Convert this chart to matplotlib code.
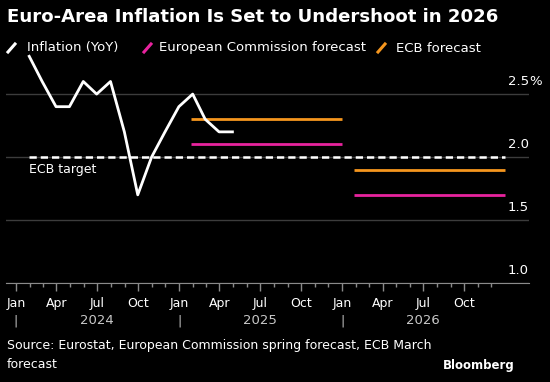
import matplotlib
matplotlib.use("Agg")
import matplotlib.pyplot as plt
import matplotlib.dates as mdates
import matplotlib.transforms as mtransforms
from matplotlib.lines import Line2D
import pandas as pd

# monthly euro-area inflation, YoY %, Jan 2024 - Apr 2025
inflation = [2.8, 2.6, 2.4, 2.4, 2.6, 2.5, 2.6, 2.2, 1.7, 2.0, 2.2, 2.4,
             2.5, 2.3, 2.2, 2.2]
forecast_years = [2025, 2026]
ec_forecast = [2.1, 1.7]
ecb_forecast = [2.3, 1.9]
ecb_target = 2.0
y_ticks = [1.0, 1.5, 2.0, 2.5]
y_tick_labels = ["1.0", "1.5", "2.0", "2.5"]
years = [2024, 2025, 2026]

BG = "black"
WHITE = "white"
ORANGE = "#f5961e"
PINK = "#e8239e"
GRID = "#3c3c3c"
AXIS = "#8a8a8a"

# data is plotted at month end
dates = pd.date_range("2024-01-31", periods=len(inflation), freq="ME")

fig = plt.figure(figsize=(5.5, 3.82), dpi=100, facecolor=BG)
ax = fig.add_axes([6 / 550, 99 / 382, 523 / 550, 233 / 382], facecolor=BG)

ax.set_xlim(pd.Timestamp("2023-12-10"), pd.Timestamp("2027-02-23"))
ax.set_ylim(1.0, 2.85)

# horizontal grid
for y in y_ticks:
    ax.axhline(y, color=GRID, lw=1, zorder=1)

# ECB target
ax.plot([pd.Timestamp("2024-01-31"), pd.Timestamp("2026-12-31")],
        [ecb_target, ecb_target], color=WHITE, lw=1.8,
        dashes=(2.9, 1.6), zorder=2)
ax.text(pd.Timestamp("2024-01-31"), 1.90, "ECB target", color=WHITE,
        fontsize=9, va="center", ha="left")

# forecasts, one flat segment per year
for yr, ec, ecb in zip(forecast_years, ec_forecast, ecb_forecast):
    x0 = pd.Timestamp(f"{yr}-01-27")
    x1 = pd.Timestamp(f"{yr}-12-31")
    ax.plot([x0, x1], [ecb, ecb], color=ORANGE, lw=2, solid_capstyle="butt", zorder=3)
    ax.plot([x0, x1], [ec, ec], color=PINK, lw=2, solid_capstyle="butt", zorder=3)

ax.plot(dates, inflation, color=WHITE, lw=2, zorder=4)

# right-side y labels sitting above the gridlines
trans = mtransforms.blended_transform_factory(ax.transAxes, ax.transData)
for y, lab in zip(y_ticks, y_tick_labels):
    ax.text(1.0, y + 0.045, lab, transform=trans, ha="right", va="bottom",
            color=WHITE, fontsize=9.5)
ax.text(1.0, 2.5 + 0.045, "%", transform=trans, ha="left", va="bottom",
        color=WHITE, fontsize=9.5)
ax.set_yticks([])

# x axis
for s in ["top", "right", "left"]:
    ax.spines[s].set_visible(False)
ax.spines["bottom"].set_color(AXIS)
quarters = pd.date_range("2024-01-01", "2026-10-01", freq="QS")
months = pd.date_range("2024-01-01", "2026-12-01", freq="MS")
ax.set_xticks(quarters)
ax.set_xticks(months, minor=True)
ax.xaxis.set_major_formatter(mdates.DateFormatter("%b"))
ax.tick_params(axis="x", which="major", colors=AXIS, labelcolor=WHITE,
               length=6, width=1, labelsize=9, pad=4)
ax.tick_params(axis="x", which="minor", colors=AXIS, length=3, width=1)

xtrans = mtransforms.blended_transform_factory(ax.transData, fig.transFigure)
for yr in years:
    ax.text(pd.Timestamp(f"{yr}-07-01"), 1 - 321 / 382, str(yr), transform=xtrans,
            ha="center", va="center", color="#c8c8c8", fontsize=9.5)
    ax.text(pd.Timestamp(f"{yr}-01-01"), 1 - 321 / 382, "|", transform=xtrans,
            ha="center", va="center", color="#c8c8c8", fontsize=9)

# title
fig.text(7 / 550, 1 - 17 / 382, "Euro-Area Inflation Is Set to Undershoot in 2026",
         color=WHITE, fontsize=13.1, fontweight="bold", ha="left", va="center")

# legend drawn by hand with slanted strokes
legend_items = [("Inflation (YoY)", WHITE, 8, 27),
                ("European Commission forecast", PINK, 144, 159),
                ("ECB forecast", ORANGE, 378, 396)]
ly = 1 - 48 / 382
for lab, col, mx, tx in legend_items:
    fig.add_artist(Line2D([mx / 550, (mx + 7) / 550], [ly - 4 / 382, ly + 4 / 382],
                          color=col, lw=2.2, transform=fig.transFigure))
    fig.text(tx / 550, ly, lab, color=WHITE, fontsize=9.5, ha="left", va="center")

# footer
fig.text(7 / 550, 1 - 346 / 382, "Source: Eurostat, European Commission spring forecast, ECB March",
         color=WHITE, fontsize=9, ha="left", va="center")
fig.text(7 / 550, 1 - 365 / 382, "forecast", color=WHITE, fontsize=9,
         ha="left", va="center")
fig.text(515 / 550, 1 - 366 / 382, "Bloomberg", color=WHITE, fontsize=8.5,
         fontweight="bold", ha="right", va="center")

fig.savefig("out.png", dpi=100, facecolor=BG)
